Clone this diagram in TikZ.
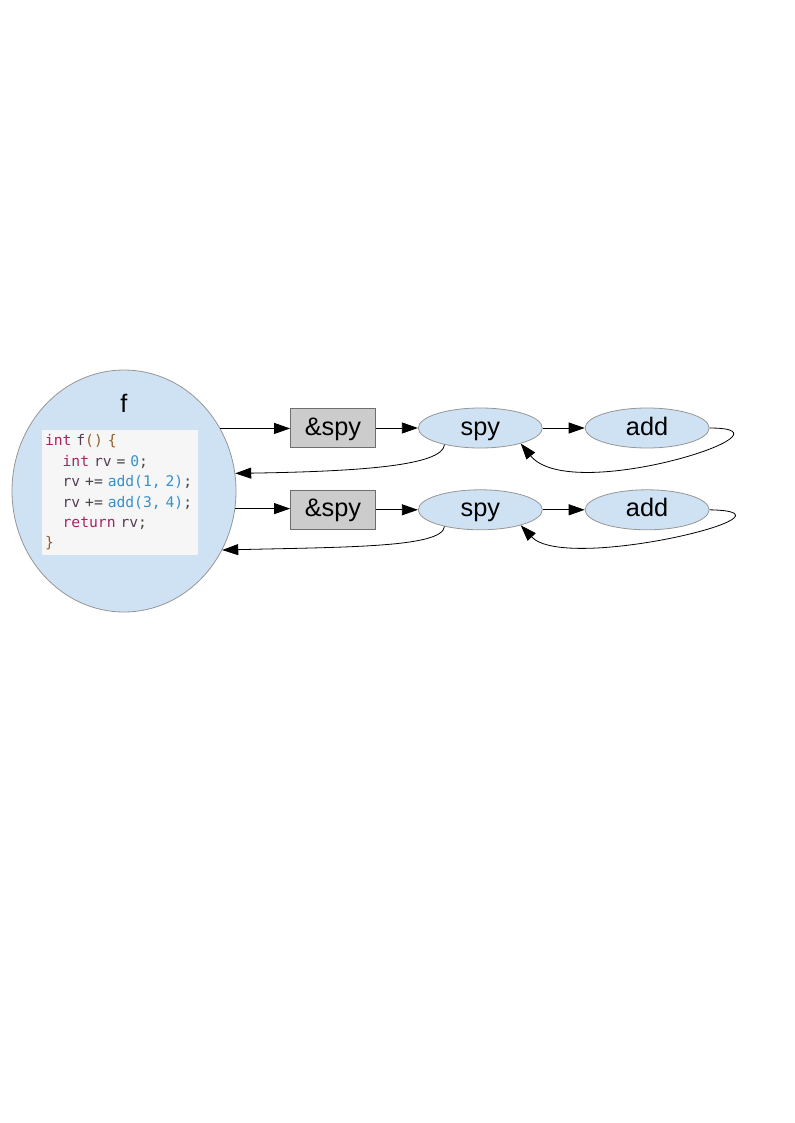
\documentclass[tikz,border=0pt]{standalone}
\usepackage{fontspec}
\setmainfont{Liberation Sans}
\newfontfamily\codefont{DejaVu Sans Mono}
\usetikzlibrary{arrows.meta,positioning,shapes.geometric}
\definecolor{callblue}{RGB}{207,226,243}
\definecolor{callline}{RGB}{150,150,150}
\definecolor{ampgray}{RGB}{204,204,204}
\definecolor{ampline}{RGB}{110,110,110}
\definecolor{codebg}{RGB}{246,246,246}
\definecolor{codekw}{RGB}{170,35,100}
\definecolor{codeid}{RGB}{85,60,85}
\definecolor{codebr}{RGB}{150,95,45}
\definecolor{codenum}{RGB}{55,145,200}
\definecolor{codeop}{RGB}{70,70,70}
\newcommand{\ckw}[1]{\textcolor{codekw}{#1}}
\newcommand{\cid}[1]{\textcolor{codeid}{#1}}
\newcommand{\cbr}[1]{\textcolor{codebr}{#1}}
\newcommand{\cnum}[1]{\textcolor{codenum}{#1}}
\newcommand{\cop}[1]{\textcolor{codeop}{#1}}
\newcommand{\cind}{\hspace*{1.204em}}

\begin{document}
\begin{tikzpicture}[
    x=0.75pt,y=-0.75pt,
    node distance=31.5pt,
    func/.style={ellipse,draw=callline,fill=callblue,line width=0.6pt,
      minimum width=168pt,minimum height=181.5pt,inner sep=0pt},
    call/.style={ellipse,draw=callline,fill=callblue,line width=0.6pt,
      minimum width=93pt,minimum height=30pt,inner sep=0pt,
      text height=13.7pt,text depth=3pt,
      font=\fontsize{19}{22}\selectfont},
    amp/.style={rectangle,draw=ampline,fill=ampgray,line width=0.6pt,
      minimum width=63.75pt,minimum height=29.25pt,inner sep=0pt,
      text height=13.7pt,text depth=3pt,
      font=\fontsize{19}{22}\selectfont},
    lbl/.style={inner sep=0pt,font=\fontsize{19}{22}\selectfont},
    code/.style={rectangle,fill=codebg,align=left,text width=112.5pt,
      minimum width=117pt,minimum height=93.75pt,inner xsep=2.25pt,inner ysep=0pt,
      font=\codefont\fontsize{11}{15.3}\selectfont},
    arrow/.style={-{Triangle[length=12pt,width=8.25pt]},line width=0.6pt}
  ]
    \useasboundingbox (0,0) rectangle (794,1123);

    \node[func] (f) at (124,491) {};
    \node[lbl] (ftitle) at (124,403) {f};
    \node[code] (src) at (120,492.5) {%
      \ckw{int} \cid{f}\cbr{() \{}\\
      \cind\ckw{int} \cid{rv} \cop{=} \cnum{0}\cop{;}\\
      \cind\cid{rv} \cop{+=} \cnum{add(1, 2)}\cop{;}\\
      \cind\cid{rv} \cop{+=} \cnum{add(3, 4)}\cop{;}\\
      \cind\ckw{return} \cid{rv}\cop{;}\\
      \cbr{\}}};

    \node[amp] (amp1) at (333,428) {\&spy};
    \node[call,right=of amp1] (spy1) {spy};
    \node[call,right=of spy1] (add1) {add};
    \node[amp,below=of amp1] (amp2) {\&spy};
    \node[call,right=of amp2] (spy2) {spy};
    \node[call,right=of spy2] (add2) {add};

    \draw[arrow] (f.33) -- (f.33 -| amp1.west);
    \draw[arrow] (amp1) -- (spy1);
    \draw[arrow] (spy1) -- (add1);
    \draw[arrow] (add1.east) .. controls +(100,0) and +(50,62) .. (spy1.-21);
    \draw[arrow] (spy1.-155) .. controls +(-2,21) and +(125,-2) .. (f.9);

    \draw[arrow] (f.-9) -- (f.-9 -| amp2.west);
    \draw[arrow] (amp2) -- (spy2);
    \draw[arrow] (spy2) -- (add2);
    \draw[arrow] (add2.east) .. controls +(106,2) and +(45,48) .. (spy2.-21);
    \draw[arrow] (spy2.-155) .. controls +(-2,21) and +(125,-3) .. (f.-31);
  \end{tikzpicture}
\end{document}
